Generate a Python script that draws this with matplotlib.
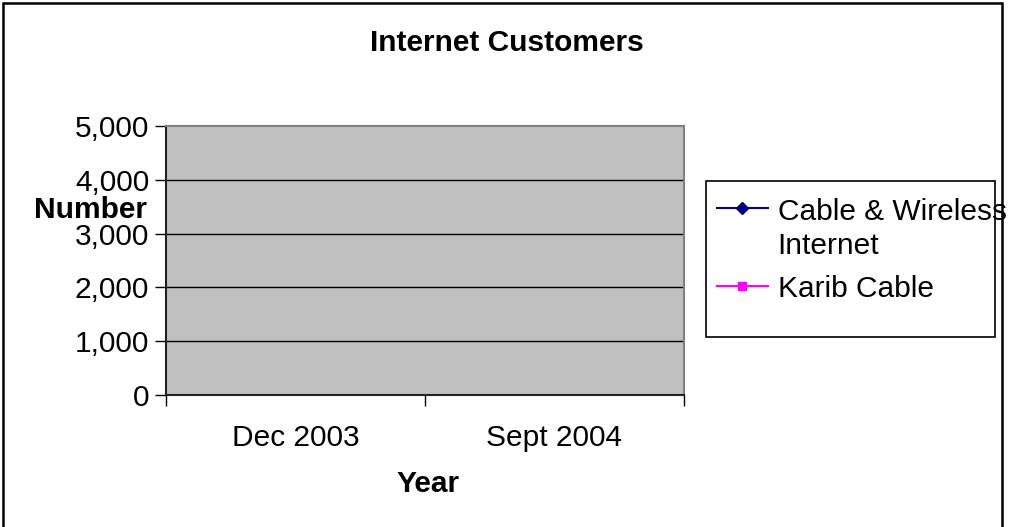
import numpy as np
import matplotlib
matplotlib.use("Agg")
import matplotlib.pyplot as plt
from matplotlib.patches import Rectangle

plt.rcParams["font.family"] = ["Liberation Sans", "DejaVu Sans"]

# Chart data (no values were recorded for either series)
categories = ["Dec 2003", "Sept 2004"]
cable_wireless = [np.nan, np.nan]
karib_cable = [np.nan, np.nan]
series_names = ["Cable & Wireless\nInternet", "Karib Cable"]
y_ticks = [0, 1000, 2000, 3000, 4000, 5000]

W, H = 1024, 527
fig = plt.figure(figsize=(W / 100, H / 100), dpi=100)
fig.patch.set_facecolor("white")

def px(x0, y0, x1, y1):
    """Convert a pixel box (top-left origin) to figure fraction [l, b, w, h]."""
    return [x0 / W, 1 - y1 / H, (x1 - x0) / W, (y1 - y0) / H]

REG = 21.5
BOLD = 21.5

ax = fig.add_axes(px(166, 126, 684, 395))
ax.set_facecolor("#C0C0C0")

xpos = np.arange(len(categories)) + 0.5
l1, = ax.plot(xpos, cable_wireless, color="#000080", marker="D", markersize=6,
              linewidth=1.5, label=series_names[0])
l2, = ax.plot(xpos, karib_cable, color="#FF00FF", marker="s", markersize=6,
              linewidth=1.5, label=series_names[1])

ax.set_xlim(0, len(categories))
ax.set_ylim(0, 5000)
ax.set_yticks(y_ticks)
ax.set_yticklabels([f"{v:,}" for v in y_ticks])
ax.set_xticks(np.arange(len(categories) + 1))
ax.set_xticklabels([])
ax.set_xticks(xpos, minor=True)
ax.set_xticklabels(categories, minor=True)

ax.tick_params(axis="y", which="major", direction="out", length=8, width=1,
               color="black", labelsize=REG, pad=4)
ax.tick_params(axis="x", which="major", direction="out", length=8, width=1,
               color="black")
ax.tick_params(axis="x", which="minor", length=0, labelsize=REG, pad=21)

for y in y_ticks[1:-1]:
    ax.axhline(y, color="black", linewidth=1, zorder=1)

ax.spines["top"].set_color("#808080")
ax.spines["right"].set_color("#808080")
ax.spines["left"].set_color("#202020")
ax.spines["bottom"].set_color("#202020")
for s in ax.spines.values():
    s.set_linewidth(1.5)

fig.text(507 / W, 1 - 43 / H, "Internet Customers", ha="center", va="center",
         fontsize=BOLD, fontweight="bold")
fig.text(91 / W, 1 - 210 / H, "Number", ha="center", va="center",
         fontsize=BOLD, fontweight="bold")
fig.text(428 / W, 1 - 484 / H, "Year", ha="center", va="center",
         fontsize=BOLD, fontweight="bold")

# Legend frame
fig.patches.append(Rectangle((706 / W, 1 - 337 / H), (995 - 706) / W, (337 - 181) / H,
                             transform=fig.transFigure, facecolor="white",
                             edgecolor="black", linewidth=1.2, zorder=2))
leg = fig.legend(handles=[l1, l2], loc="upper left",
                 bbox_to_anchor=(702 / W, 1 - 183 / H), frameon=False,
                 fontsize=REG, handlelength=1.7, handletextpad=0.33,
                 labelspacing=0.52, borderpad=0.0)
leg.set_zorder(3)
for t in leg.get_texts():
    t.set_linespacing(1.27)
# keep each marker level with the first line of its label
for col in leg._legend_handle_box.get_children():
    for row in col.get_children():
        row.align = "top"

# Outer chart border
fig.patches.append(Rectangle((3 / W, -0.05), (1002 - 3) / W, 1.05 - 3 / H,
                             transform=fig.transFigure, facecolor="none",
                             edgecolor="black", linewidth=1.8, zorder=1))

fig.savefig("out.png", dpi=100)
